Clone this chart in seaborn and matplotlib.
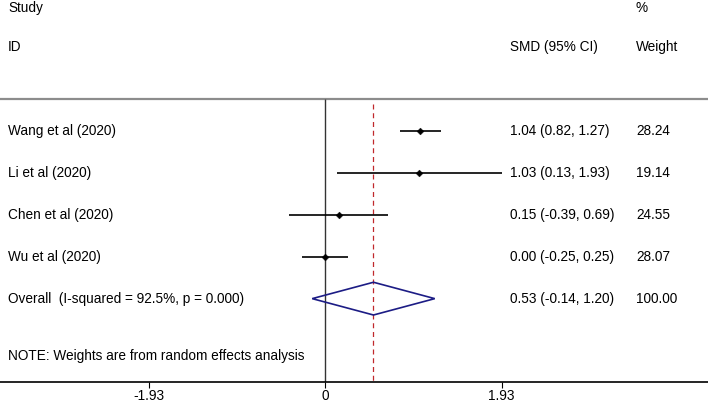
import matplotlib
matplotlib.use("Agg")
import matplotlib.pyplot as plt
import seaborn as sns
import pandas as pd
import numpy as np
from matplotlib.patches import Polygon

studies = ["Wang et al (2020)", "Li et al (2020)", "Chen et al (2020)", "Wu et al (2020)"]
smd = [1.04, 1.03, 0.15, 0.00]
ci_low = [0.82, 0.13, -0.39, -0.25]
ci_high = [1.27, 1.93, 0.69, 0.25]
weights = [28.24, 19.14, 24.55, 28.07]
overall_label = "Overall  (I-squared = 92.5%, p = 0.000)"
overall_smd = 0.53
overall_low = -0.14
overall_high = 1.20
overall_weight = 100.00
tick_values = [-1.93, 0, 1.93]
tick_labels = ["-1.93", "0", "1.93"]
note = "NOTE: Weights are from random effects analysis"

sns.set_theme(style="white")
plt.rcParams['font.family'] = ['Liberation Sans', 'DejaVu Sans']
plt.rcParams['text.color'] = 'black'
plt.rcParams['xtick.color'] = 'black'
plt.rcParams['xtick.labelcolor'] = 'black'

fig = plt.figure(figsize=(7.08, 4.03), dpi=100)
ax = fig.add_axes([0, (403 - 382) / 403, 1, 382 / 403])

rows = list(range(1, len(studies) + 1))
overall_row = len(studies) + 1
df = pd.DataFrame({"study": studies, "smd": smd, "lo": ci_low, "hi": ci_high,
                   "w": weights, "row": rows})

ax.set_xlim(-3.554, 4.188)
ax.set_ylim(6.985, -2.11)

fs = 9.8
xs, xe, xw = -3.466, 2.02, 3.40
# header
ax.text(xs, -1.92, "Study", fontsize=fs, va="center", ha="left")
ax.text(xs, -0.99, "ID", fontsize=fs, va="center", ha="left")
ax.text(xe, -0.99, "SMD (95% CI)", fontsize=fs, va="center", ha="left")
ax.text(xw, -1.92, "%", fontsize=fs, va="center", ha="left")
ax.text(xw, -0.99, "Weight", fontsize=fs, va="center", ha="left")

# top separator
ax.axhline(0.245, color="#8c8c8c", lw=1.6)

# null line and overall dashed line
ax.vlines(0, 0.245, 6.985, color="#333333", lw=1.0)
ax.vlines(overall_smd, 0.37, 6.985, color="#c0282c", lw=0.9, linestyles=(0, (4, 3)))

# CIs
ax.hlines(df["row"], df["lo"], df["hi"], color="black", lw=1.2)
sns.scatterplot(data=df, x="smd", y="row", marker="D", s=12, color="black",
                edgecolor="black", linewidth=0.3, ax=ax, legend=False, zorder=5)

# diamond
h = 0.39
diamond = Polygon([[overall_low, overall_row], [overall_smd, overall_row - h],
                   [overall_high, overall_row], [overall_smd, overall_row + h]],
                  closed=True, fill=False, edgecolor="#1c1c85", lw=1.2, zorder=4)
ax.add_patch(diamond)

for r, s, m, lo, hi, w in zip(rows, studies, smd, ci_low, ci_high, weights):
    ax.text(xs, r, s, fontsize=fs, va="center", ha="left")
    ax.text(xe, r, f"{m:.2f} ({lo:.2f}, {hi:.2f})", fontsize=fs, va="center", ha="left")
    ax.text(xw, r, f"{w:.2f}", fontsize=fs, va="center", ha="left")

ax.text(xs, overall_row, overall_label, fontsize=fs, va="center", ha="left")
ax.text(xe, overall_row, f"{overall_smd:.2f} ({overall_low:.2f}, {overall_high:.2f})",
        fontsize=fs, va="center", ha="left")
ax.text(xw, overall_row, f"{overall_weight:.2f}", fontsize=fs, va="center", ha="left")

ax.text(xs, 6.36, note, fontsize=fs, va="center", ha="left")

# axes styling
for sp in ["top", "left", "right"]:
    ax.spines[sp].set_visible(False)
ax.spines["bottom"].set_color("black")
ax.spines["bottom"].set_linewidth(1.2)
ax.set_yticks([])
ax.set_xticks(tick_values)
ax.set_xticklabels(tick_labels, fontsize=fs)
ax.tick_params(axis="x", direction="out", length=4.5, width=0.8, color="black", pad=0.5,
               bottom=True)
ax.set_xlabel("")
ax.set_ylabel("")
ax.set_facecolor("white")
fig.patch.set_facecolor("white")

fig.savefig("out.png", dpi=100)
